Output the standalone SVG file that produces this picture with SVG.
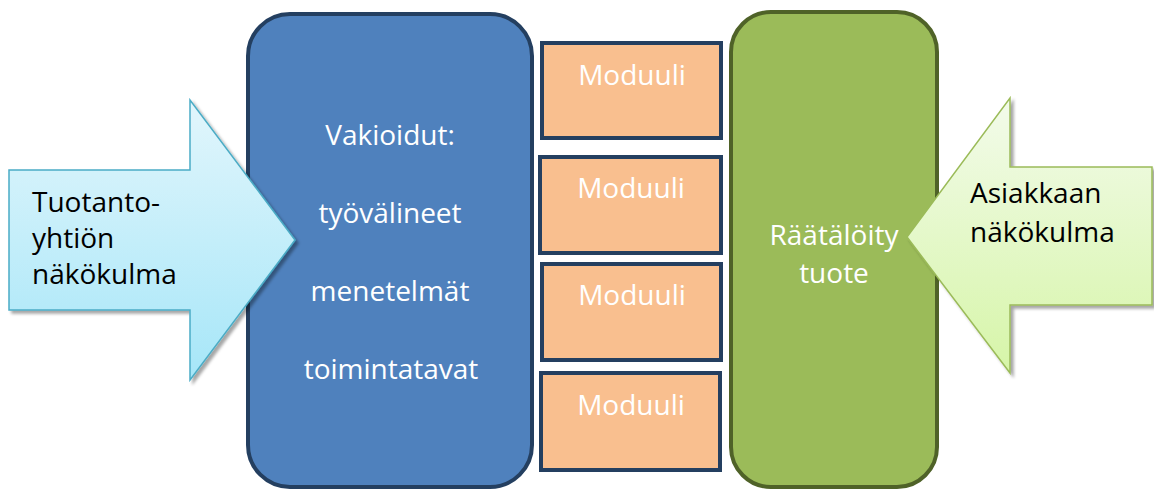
<svg xmlns="http://www.w3.org/2000/svg" width="1154" height="491" viewBox="0 0 1154 491">
  <defs>
    <linearGradient id="gBlueArrow" x1="0" y1="0" x2="0" y2="1">
      <stop offset="0" stop-color="#e2f6fc"/>
      <stop offset="1" stop-color="#a6e6f8"/>
    </linearGradient>
    <linearGradient id="gGreenArrow" x1="0" y1="0" x2="0" y2="1">
      <stop offset="0" stop-color="#f3fbeb"/>
      <stop offset="1" stop-color="#d6f5a8"/>
    </linearGradient>
    <filter id="shadow" x="-10%" y="-10%" width="130%" height="130%">
      <feDropShadow dx="3" dy="3" stdDeviation="1.5" flood-color="#000" flood-opacity="0.35"/>
    </filter>
  </defs>
  <style>
    .lbl { font-family: "Open Sans", "Liberation Sans", sans-serif; font-size: 28px; }
    .white { fill: #ffffff; }
    .black { fill: #000000; }
    .module rect { fill: #f9bf8f; stroke: #243f60; stroke-width: 4; }
  </style>

  <!-- standardised core -->
  <g id="standardised">
    <rect x="248" y="14" width="284" height="473" rx="42" ry="42" fill="#4f81bd" stroke="#243f60" stroke-width="4"/>
    <text class="lbl white" x="390" y="145" text-anchor="middle">Vakioidut:</text>
    <text class="lbl white" x="390" y="223" text-anchor="middle">työvälineet</text>
    <text class="lbl white" x="390" y="301" text-anchor="middle">menetelmät</text>
    <text class="lbl white" x="391" y="379" text-anchor="middle">toimintatavat</text>
  </g>

  <!-- modules -->
  <g id="module-1" class="module">
    <rect x="542" y="43" width="179" height="95"/>
    <text class="lbl white" x="632" y="85" text-anchor="middle">Moduuli</text>
  </g>
  <g id="module-2" class="module">
    <rect x="540" y="157" width="181" height="96"/>
    <text class="lbl white" x="631" y="198" text-anchor="middle">Moduuli</text>
  </g>
  <g id="module-3" class="module">
    <rect x="542" y="264" width="179" height="96"/>
    <text class="lbl white" x="632" y="305" text-anchor="middle">Moduuli</text>
  </g>
  <g id="module-4" class="module">
    <rect x="541" y="373" width="179" height="97"/>
    <text class="lbl white" x="631" y="415" text-anchor="middle">Moduuli</text>
  </g>

  <!-- tailored product -->
  <g id="tailored">
    <rect x="731" y="12" width="206" height="475" rx="40" ry="40" fill="#9bbb59" stroke="#4f6228" stroke-width="4"/>
    <text class="lbl white" x="834" y="245" text-anchor="middle">Räätälöity</text>
    <text class="lbl white" x="834" y="283" text-anchor="middle">tuote</text>
  </g>

  <!-- block arrows, drawn over the boxes they point into -->
  <g id="connectors">
    <g id="producer-view">
      <path d="M9,170 L190,170 L190,100 L295,240 L190,380 L190,310 L9,310 Z" fill="url(#gBlueArrow)" stroke="#4bacc6" stroke-width="1.5" filter="url(#shadow)"/>
      <text class="lbl black" x="32" y="212">Tuotanto-</text>
      <text class="lbl black" x="32" y="248">yhtiön</text>
      <text class="lbl black" x="32" y="284">näkökulma</text>
    </g>
    <g id="customer-view">
      <path d="M1152,167 L1010,167 L1010,98 L907,237 L1010,373 L1010,305 L1152,305 Z" fill="url(#gGreenArrow)" stroke="#9bbb59" stroke-width="1.5" filter="url(#shadow)"/>
      <text class="lbl black" x="970" y="203">Asiakkaan</text>
      <text class="lbl black" x="970" y="242">näkökulma</text>
    </g>
  </g>
</svg>
